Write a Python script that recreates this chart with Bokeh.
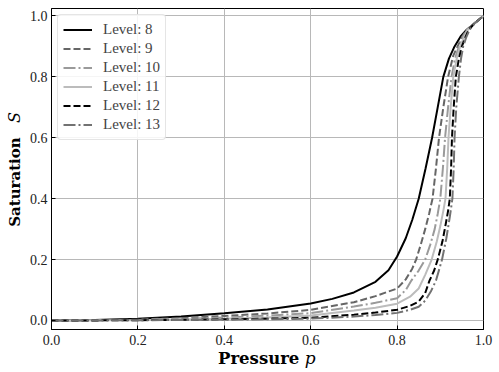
from bokeh.plotting import figure
from bokeh.models import FixedTicker, Range1d, Div
from bokeh.layouts import row, column
from bokeh.embed import file_html
from bokeh.resources import INLINE

# ---- data ----
levels = ["Level: 8", "Level: 9", "Level: 10", "Level: 11", "Level: 12", "Level: 13"]

p_l8 = [0, 0.1, 0.2, 0.3, 0.4, 0.5, 0.6, 0.65, 0.7, 0.75, 0.78, 0.8, 0.82, 0.835, 0.85, 0.866, 0.881, 0.894, 0.907, 0.92, 0.933, 0.947, 0.96, 0.98, 1.0]
s_l8 = [0, 0.002, 0.006, 0.013, 0.024, 0.036, 0.056, 0.071, 0.092, 0.127, 0.165, 0.21, 0.27, 0.33, 0.4, 0.5, 0.6, 0.7, 0.8, 0.86, 0.9, 0.933, 0.953, 0.977, 1.0]

p_l9 = [0, 0.1, 0.2, 0.3, 0.4, 0.5, 0.6, 0.7, 0.75, 0.8, 0.82, 0.835, 0.844, 0.855, 0.865, 0.874, 0.882, 0.89, 0.897, 0.907, 0.918, 0.93, 0.94, 0.95, 0.96, 0.98, 1.0]
s_l9 = [0, 0.001, 0.003, 0.008, 0.015, 0.023, 0.035, 0.06, 0.08, 0.105, 0.135, 0.17, 0.2, 0.25, 0.3, 0.35, 0.4, 0.5, 0.6, 0.7, 0.8, 0.87, 0.9, 0.93, 0.953, 0.977, 1.0]

p_l10 = [0, 0.1, 0.2, 0.3, 0.4, 0.5, 0.6, 0.7, 0.75, 0.8, 0.82, 0.833, 0.85, 0.865, 0.877, 0.887, 0.894, 0.9, 0.906, 0.911, 0.918, 0.926, 0.934, 0.943, 0.952, 0.962, 0.98, 1.0]
s_l10 = [0, 0.001, 0.002, 0.005, 0.01, 0.016, 0.024, 0.046, 0.058, 0.073, 0.1, 0.131, 0.164, 0.2, 0.25, 0.3, 0.35, 0.4, 0.5, 0.6, 0.7, 0.8, 0.86, 0.9, 0.93, 0.955, 0.977, 1.0]

p_l11 = [0, 0.1, 0.2, 0.3, 0.4, 0.5, 0.6, 0.7, 0.75, 0.8, 0.83, 0.85, 0.865, 0.88, 0.892, 0.9, 0.907, 0.912, 0.916, 0.919, 0.924, 0.93, 0.938, 0.946, 0.955, 0.964, 0.98, 1.0]
s_l11 = [0, 0.0005, 0.001, 0.003, 0.006, 0.01, 0.016, 0.033, 0.042, 0.055, 0.078, 0.105, 0.15, 0.2, 0.26, 0.31, 0.36, 0.4, 0.5, 0.6, 0.7, 0.8, 0.86, 0.9, 0.93, 0.955, 0.977, 1.0]

p_l12 = [0, 0.1, 0.2, 0.3, 0.4, 0.5, 0.6, 0.7, 0.75, 0.8, 0.83, 0.85, 0.865, 0.875, 0.886, 0.894, 0.905, 0.913, 0.918, 0.922, 0.925, 0.927, 0.931, 0.936, 0.943, 0.95, 0.958, 0.966, 0.98, 1.0]
s_l12 = [0, 0.0003, 0.001, 0.002, 0.004, 0.006, 0.009, 0.019, 0.026, 0.035, 0.048, 0.062, 0.09, 0.131, 0.165, 0.2, 0.26, 0.32, 0.36, 0.4, 0.5, 0.6, 0.7, 0.8, 0.86, 0.9, 0.93, 0.955, 0.977, 1.0]

p_l13 = [0, 0.1, 0.2, 0.3, 0.4, 0.5, 0.6, 0.7, 0.75, 0.8, 0.83, 0.85, 0.865, 0.878, 0.89, 0.904, 0.914, 0.922, 0.928, 0.931, 0.933, 0.937, 0.943, 0.948, 0.953, 0.96, 0.968, 0.98, 1.0]
s_l13 = [0, 0.0002, 0.0008, 0.0015, 0.003, 0.004, 0.006, 0.013, 0.018, 0.025, 0.035, 0.045, 0.065, 0.095, 0.131, 0.2, 0.27, 0.34, 0.4, 0.5, 0.6, 0.7, 0.8, 0.86, 0.9, 0.93, 0.955, 0.977, 1.0]

x_ticks = [0.0, 0.2, 0.4, 0.6, 0.8, 1.0]
y_ticks = [0.0, 0.2, 0.4, 0.6, 0.8, 1.0]

x_title, x_symbol = "Pressure", "p"
y_title, y_symbol = "Saturation", "S"

series = [
    (p_l8, s_l8, "black", "solid"),
    (p_l9, s_l9, "#666666", "7 3"),
    (p_l10, s_l10, "#9a9a9a", "12 3 2 3"),
    (p_l11, s_l11, "#bcbcbc", "solid"),
    (p_l12, s_l12, "black", "7 3"),
    (p_l13, s_l13, "#727272", "12 3 2 3"),
]

YDIV_W = 18
FIG_H = 341

p = figure(width=491 - YDIV_W, height=FIG_H, output_backend="svg", toolbar_location=None,
           x_range=Range1d(0.0, 1.0), y_range=Range1d(-0.0296, 1.0246),
           min_border_left=21, min_border_right=16, min_border_top=0, min_border_bottom=20,
           margin=0)

for (xs, ys, col, dash), lab in zip(series, levels):
    p.line(xs, ys, line_color=col, line_dash=dash, line_width=2, legend_label=lab)

for ax in (p.xaxis, p.yaxis):
    ax.major_tick_in = 4
    ax.major_tick_out = 0
    ax.minor_tick_in = 0
    ax.minor_tick_out = 0
    ax.axis_line_color = "black"
    ax.axis_line_width = 1
    ax.major_tick_line_color = "black"
    ax.major_label_text_font = "Liberation Serif"
    ax.major_label_text_font_size = "14px"
    ax.major_label_text_color = "#222222"

p.xaxis.ticker = FixedTicker(ticks=x_ticks)
p.yaxis.ticker = FixedTicker(ticks=y_ticks)
p.xaxis.major_label_overrides = {t: f"{t:.1f}" for t in x_ticks}
p.yaxis.major_label_overrides = {t: f"{t:.1f}" for t in y_ticks}
p.xaxis.major_label_standoff = 5
p.yaxis.major_label_standoff = 4

p.grid.grid_line_color = "#b8b8b8"
p.grid.grid_line_width = 1
p.outline_line_color = "black"
p.outline_line_width = 1
p.outline_line_alpha = 1
p.background_fill_color = "white"
p.border_fill_color = "white"

lg = p.legend[0]
lg.location = "top_left"
lg.margin = 6
lg.padding = 5
lg.spacing = 0
lg.label_height = 19
lg.glyph_height = 19
lg.glyph_width = 29
lg.label_standoff = 11
lg.label_text_font = "Liberation Serif"
lg.label_text_font_size = "15px"
lg.border_line_color = "#cccccc"
lg.border_line_width = 1
lg.background_fill_alpha = 0.85
try:
    lg.border_radius = 4
except Exception:
    pass

# axis titles: bold word + italic symbol, as HTML text beside the plot
font = "font-family:'DejaVu Serif';color:black;white-space:nowrap;"
xdiv = Div(
    text=(f'<div style="position:relative;width:{491 - YDIV_W}px;height:20px;">'
          f'<div style="position:absolute;left:192px;top:-3px;{font}font-size:16.5px;">'
          f'<b>{x_title}</b>&nbsp;<i style="font-size:17px;">{x_symbol}</i></div></div>'),
    width=491 - YDIV_W, height=20, margin=0)
ydiv = Div(
    text=(f'<div style="position:relative;width:{YDIV_W}px;height:{FIG_H + 20}px;">'
          f'<div style="position:absolute;left:0px;bottom:142px;writing-mode:vertical-rl;'
          f'transform:rotate(180deg);line-height:14px;{font}font-size:15px;">'
          f'<b>{y_title}</b>&nbsp;&nbsp;&nbsp;<i style="font-size:16px;">{y_symbol}</i></div></div>'),
    width=YDIV_W, height=FIG_H + 20, margin=0)

layout = row(ydiv, column(p, xdiv, spacing=0, margin=0), spacing=0, margin=(8, 0, 0, 8))

open("out.html", "w").write(file_html(layout, INLINE))
